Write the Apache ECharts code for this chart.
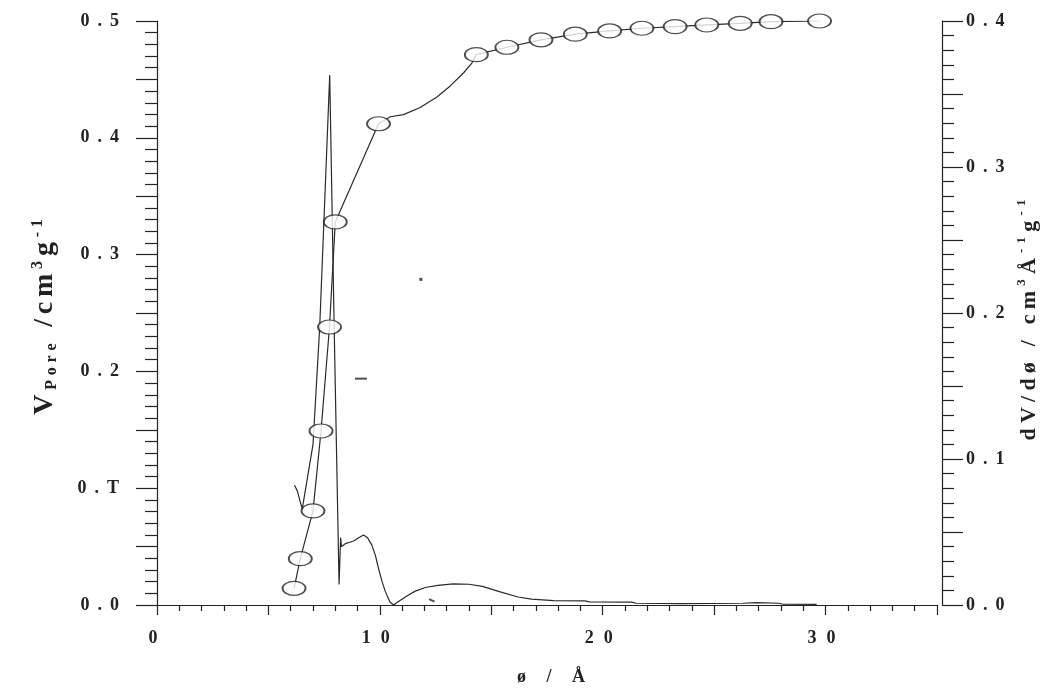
<!DOCTYPE html>
<html><head><meta charset="utf-8">
<script src="https://cdn.jsdelivr.net/npm/echarts@6/dist/echarts.min.js"></script>
<style>html,body{margin:0;padding:0;background:#fff;}#c{width:1061px;height:691px;}</style>
</head><body><div id="c"></div>
<script>
// Cumulative pore volume (left axis) – circle markers
const vporeMarkerX = [6.15, 6.43, 7.0, 7.36, 7.74, 8.0, 9.94, 14.33, 15.70, 17.23, 18.77, 20.31, 21.76, 23.25, 24.67, 26.17, 27.55, 29.73];
const vporeMarkerY = [0.0143, 0.0397, 0.0806, 0.149, 0.238, 0.328, 0.412, 0.4712, 0.4775, 0.4839, 0.4887, 0.4915, 0.4938, 0.4952, 0.4966, 0.498, 0.4994, 0.500];
// Cumulative pore volume – full traced curve
const vporeCurveX = [6.15, 6.43, 7.0, 7.36, 7.74, 8.0, 9.94, 10.47, 11.06, 11.81, 12.56, 13.16, 13.76, 14.13, 14.33, 15.70, 17.23, 18.77, 20.31, 21.76, 23.25, 24.67, 26.17, 27.55, 29.73];
const vporeCurveY = [0.0143, 0.0397, 0.0806, 0.149, 0.238, 0.328, 0.412, 0.418, 0.4198, 0.426, 0.435, 0.4444, 0.4557, 0.464, 0.4712, 0.4775, 0.4839, 0.4887, 0.4915, 0.4938, 0.4952, 0.4966, 0.498, 0.4994, 0.500];
// Pore size distribution dV/dø (right axis)
const dvX = [6.17, 6.30, 6.42, 6.52, 6.60, 7.00, 7.30, 7.75, 7.95, 8.17, 8.24, 8.28, 8.45, 8.65, 8.85, 9.05, 9.27, 9.45, 9.64, 9.80, 9.94, 10.10, 10.24, 10.45, 10.62, 10.80, 10.99, 11.30, 11.59, 12.04, 12.60, 13.30, 14.00, 14.60, 15.40, 16.20, 16.80, 17.80, 19.20, 19.40, 21.30, 21.50, 23.50, 26.30, 26.90, 27.90, 28.10, 29.60];
const dvY = [0.082, 0.078, 0.071, 0.066, 0.066, 0.110, 0.190, 0.363, 0.190, 0.014, 0.046, 0.040, 0.042, 0.043, 0.044, 0.046, 0.048, 0.046, 0.041, 0.034, 0.025, 0.016, 0.0095, 0.002, 0.000, 0.002, 0.004, 0.007, 0.0095, 0.012, 0.0135, 0.0145, 0.0142, 0.0128, 0.009, 0.0055, 0.004, 0.003, 0.0028, 0.0021, 0.002, 0.0012, 0.001, 0.0012, 0.0016, 0.0012, 0.0005, 0.0004];
// Small stray print marks (left-axis units)
const speckX = [9.15, 11.84, 12.33];
const speckY = [0.1938, 0.2788, 0.0040];
// Tick labels
const xTickValues = [0, 10, 20, 30];
const xTickLabels = ['0', '1 0', '2 0', '3 0'];
const leftTickValues = [0, 0.1, 0.2, 0.3, 0.4, 0.5];
const leftTickLabels = ['0 . 0', '0 . T', '0 . 2', '0 . 3', '0 . 4', '0 . 5'];
const rightTickValues = [0, 0.1, 0.2, 0.3, 0.4];
const rightTickLabels = ['0 . 0', '0 . 1', '0 . 2', '0 . 3', '0 . 4'];
// Axis titles as [style, text] pieces
const xTitleParts = [['t', 'ø / Å']];
const leftTitleParts = [['v', 'V'], ['sub', 'Pore'], ['v', ' /cm'], ['sup', '3'], ['v', 'g'], ['sup', '-1']];
const rightTitleParts = [['v', 'dV/dø / cm'], ['sup', '3'], ['v', 'Å'], ['sup', '-1'], ['v', 'g'], ['sup', '-1']];

const FONT = "'Liberation Serif', 'Times New Roman', serif";
const INK = '#222';
function spread(parts) {
  return parts.map(p => Array.from(p[1]).map(ch => '{' + p[0] + '|' + ch + '}').join('')).join('');
}
function spaced(s) { return s.split(' ').join('{g| }'); }
function labeler(vals, labs) {
  return function (v) {
    for (let i = 0; i < vals.length; i++) if (Math.abs(v - vals[i]) < 1e-7) return spaced(labs[i]);
    return '';
  };
}
const yGapRich = { g: { width: 8, fontSize: 18 } };
const xGapRich = { g: { width: 10, fontSize: 18 } };
function tstyle(size, lh, va, pad) {
  return { fontFamily: FONT, fontWeight: 'bold', fontSize: size, lineHeight: lh, color: INK, verticalAlign: va, padding: [0, pad, 0, pad] };
}

const chart = echarts.init(document.getElementById('c'), null, { renderer: 'canvas' });
chart.setOption({
  backgroundColor: '#fff',
  animation: false,
  grid: { left: 157, right: 124, top: 21, bottom: 78.5, containLabel: false },
  xAxis: {
    type: 'value', min: 0, max: 35, interval: 5, offset: 5,
    axisLine: { lineStyle: { color: INK, width: 1.2 } },
    axisTick: { length: 10, lineStyle: { color: INK, width: 1.2 } },
    minorTick: { show: true, splitNumber: 5, length: 6, lineStyle: { color: INK, width: 1.2 } },
    splitLine: { show: false },
    axisLabel: {
      interval: 0, margin: 19, fontFamily: FONT, fontWeight: 'bold', fontSize: 18, color: INK,
      padding: [0, 8, 0, 0], formatter: labeler(xTickValues, xTickLabels), rich: xGapRich
    },
    name: spread(xTitleParts), nameLocation: 'middle', nameGap: 57,
    nameTextStyle: { fontFamily: FONT, fontWeight: 'bold', fontSize: 18, color: INK, padding: [0, 0, 0, 8],
      rich: { t: tstyle(18, 20, 'middle', 4) } }
  },
  yAxis: [
    {
      type: 'value', min: 0, max: 0.5, interval: 0.05, position: 'left', offset: 7,
      axisLine: { show: true, lineStyle: { color: INK, width: 1.2 } },
      axisTick: { show: true, length: 21, lineStyle: { color: INK, width: 1.2 } },
      minorTick: { show: true, splitNumber: 5, length: 12, lineStyle: { color: INK, width: 1.2 } },
      splitLine: { show: false },
      axisLabel: { interval: 0, margin: 31, fontFamily: FONT, fontWeight: 'bold', fontSize: 18, color: INK,
        formatter: labeler(leftTickValues, leftTickLabels), rich: yGapRich },
      name: spread(leftTitleParts), nameLocation: 'middle', nameGap: 90,
      nameTextStyle: { fontFamily: FONT, fontWeight: 'bold', color: INK, padding: [0, 8, 0, 0],
        rich: { v: tstyle(28, 30, 'middle', 2.4), sub: tstyle(16, 30, 'bottom', 2.4), sup: tstyle(16, 30, 'top', 2.4) } }
    },
    {
      type: 'value', min: 0, max: 0.4, interval: 0.05, position: 'right', offset: 5,
      axisLine: { show: true, lineStyle: { color: INK, width: 1.2 } },
      axisTick: { show: true, length: 21, lineStyle: { color: INK, width: 1.2 } },
      minorTick: { show: true, splitNumber: 5, length: 12, lineStyle: { color: INK, width: 1.2 } },
      splitLine: { show: false },
      axisLabel: { interval: 0, margin: 24, fontFamily: FONT, fontWeight: 'bold', fontSize: 18, color: INK,
        formatter: labeler(rightTickValues, rightTickLabels), rich: yGapRich },
      name: spread(rightTitleParts), nameLocation: 'middle', nameGap: 72,
      nameTextStyle: { fontFamily: FONT, fontWeight: 'bold', color: INK, padding: [0, 14, 0, 0],
        rich: { v: tstyle(22, 28, 'middle', 2.6), sup: tstyle(13, 28, 'top', 2.6) } }
    }
  ],
  series: [
    {
      name: 'dV/dø', type: 'line', yAxisIndex: 1, symbol: 'none', smooth: false,
      data: dvX.map((x, i) => [x, dvY[i]]),
      lineStyle: { color: '#2a2a2a', width: 1.2 }, z: 2
    },
    {
      name: 'Vpore curve', type: 'line', yAxisIndex: 0, symbol: 'none', smooth: false,
      data: vporeCurveX.map((x, i) => [x, vporeCurveY[i]]),
      lineStyle: { color: '#2a2a2a', width: 1.2 }, z: 3
    },
    {
      name: 'Vpore', type: 'scatter', yAxisIndex: 0, symbol: 'circle', symbolSize: [23, 14],
      data: vporeMarkerX.map((x, i) => [x, vporeMarkerY[i]]),
      itemStyle: { color: '#fff', borderColor: '#222', borderWidth: 1.5 }, z: 4
    },
    {
      name: 'specks', type: 'scatter', yAxisIndex: 0, symbol: 'rect',
      symbolSize: function (v, p) { return [[12, 2], [3, 3], [6, 2]][p.dataIndex]; },
      symbolRotate: function (v, p) { return [0, 0, -25][p.dataIndex]; },
      data: speckX.map((x, i) => [x, speckY[i]]),
      itemStyle: { color: '#222' }, z: 4
    }
  ]
});
</script>
</body></html>
